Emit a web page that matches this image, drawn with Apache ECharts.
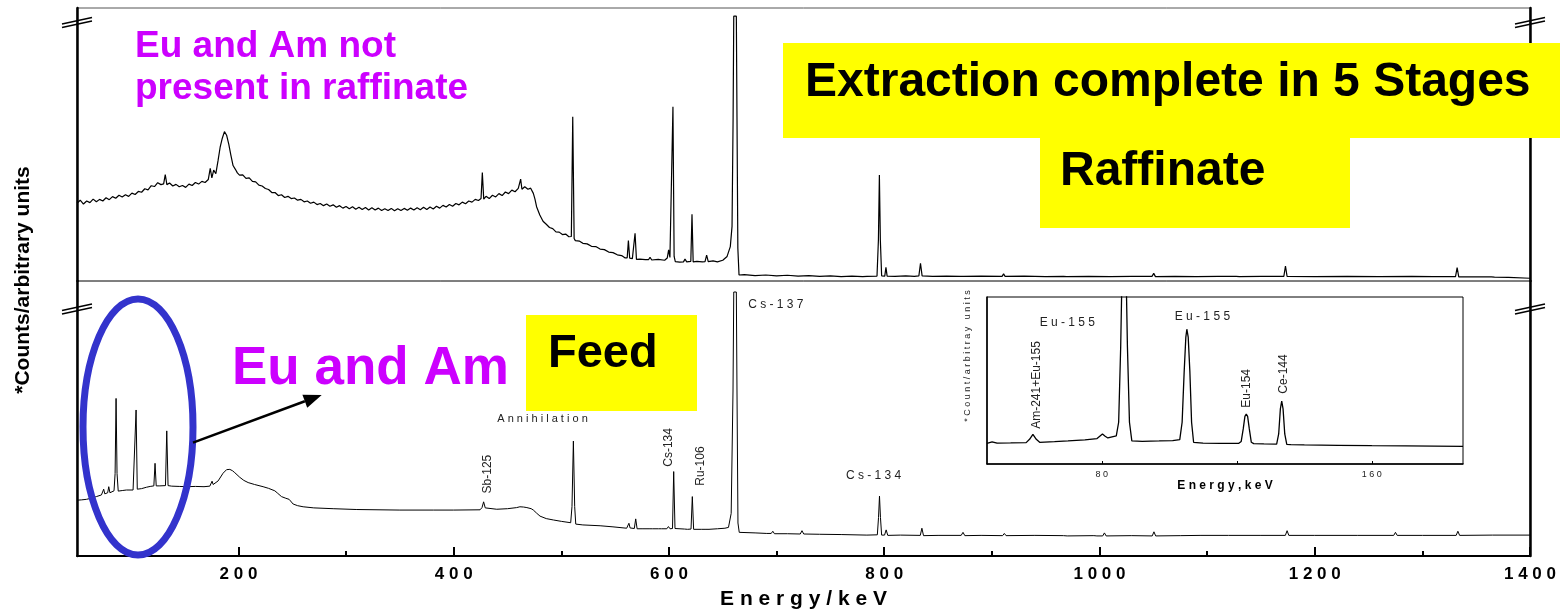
<!DOCTYPE html>
<html>
<head>
<meta charset="utf-8">
<title>Gamma spectra: feed and raffinate</title>
<script src="https://cdn.jsdelivr.net/npm/echarts@6/dist/echarts.min.js"></script>
<style>
  html, body { margin: 0; padding: 0; background: #fff; }
  #chart { width: 1560px; height: 615px; }
</style>
</head>
<body>
<div id="chart"></div>
<script>
const FONT = '"Liberation Sans", Arial, Helvetica, sans-serif';

// Raffinate spectrum after 5 stages: [energy keV, counts (arbitrary units)]
const raffinate = [
  [50,28.5],[53,29.6],[56,28.2],[59,29.3],[62,28.7],[65,30.0],[68,29.0],[71,29.9],[74,29.3],[77,30.5],
  [80,29.8],[83,30.9],[86,30.3],[89,31.4],[92,30.8],[95,31.6],[98,31.0],[101,32.2],[104,31.7],[107,32.8],
  [110,32.5],[113,33.8],[116,33.4],[119,34.9],[122,34.6],[125,36.0],[128,35.3],[130.5,35.6],[132,39.0],[133.5,35.3],
  [136,35.9],[139,34.8],[142,35.4],[145,34.5],[148,35.0],[151,34.3],[154,35.5],[157,35.0],[160,36.1],[163,35.5],
  [166,36.5],[169,36.1],[172,37.2],[173.8,41.3],[175.3,37.8],[177,40.6],[179,39.3],[181,44.0],[183,49.0],[185,52.3],
  [187,54.7],[189,53.4],[191,50.1],[193,46.0],[195,42.3],[197,41.0],[199,39.6],[201,38.8],[204,38.9],[207,37.6],
  [210,37.8],[213,36.5],[216,36.3],[219,35.1],[222,34.8],[225,33.9],[228,33.5],[231,32.4],[234,32.4],[237,31.3],
  [240,31.6],[243,30.6],[246,31.0],[249,30.2],[252,30.4],[255,29.6],[258,29.9],[261,29.0],[264,29.3],[267,28.5],
  [270,28.9],[273,28.0],[276,28.4],[279,27.6],[282,28.2],[285,27.4],[288,27.9],[291,27.0],[294,27.6],[297,26.7],
  [300,27.3],[303,26.5],[306,27.2],[309,26.3],[312,27.0],[315,26.2],[318,26.9],[321,26.0],[324,26.8],[327,26.0],
  [330,26.7],[333,25.8],[336,26.5],[339,25.8],[342,26.6],[345,25.7],[348,26.5],[351,25.8],[354,26.6],[357,25.9],
  [360,26.7],[363,26.0],[366,26.8],[369,26.1],[372,27.0],[375,26.2],[378,27.1],[381,26.4],[384,27.4],[387,26.7],
  [390,27.7],[393,27.1],[396,28.0],[399,27.4],[402,28.4],[405,27.9],[408,28.9],[411,28.3],[414,29.3],[417,28.9],
  [420,29.9],[423,29.5],[425.4,30.2],[426.6,39.7],[427.9,30.0],[430,31.0],[433,30.2],[436,31.4],[439,30.8],[442,32.0],
  [445,31.3],[448,32.6],[451,32.0],[454,33.3],[457,32.7],[460,33.9],[461.2,33.5],[462.2,37.3],[463.4,33.6],[466,34.5],
  [469,33.6],[471.5,34.0],[474,32.1],[475.5,30.0],[477,27.2],[480,24.2],[483,21.9],[486,20.8],[489,19.6],[492,19.2],
  [495,18.0],[498,17.9],[501,17.0],[504,17.2],[507,16.2],[509.3,16.3],[510.6,60.2],[511.9,15.6],[513,14.8],[517,14.6],
  [520,13.8],[524,13.6],[528,12.7],[532,12.6],[536,11.7],[540,11.5],[544,10.6],[548,10.4],[552,9.6],[556,9.3],
  [559,8.5],[561.2,8.5],[562.3,14.8],[563.5,8.4],[566,8.2],[567.3,8.4],[568.5,17.5],[569.8,7.9],[573,8.0],[578,7.8],
  [581,7.8],[582.4,8.7],[584,7.7],[590,7.9],[596,7.6],[598.4,8.4],[599.7,11.4],[600.9,8.6],[602.6,9.0],[603.7,63.8],
  [604.8,9.0],[605.9,7.1],[610,6.9],[613.5,7.0],[614.9,8.0],[616.5,7.0],[620.3,7.2],[621.4,24.4],[622.5,7.0],[626,7.2],
  [631,7.0],[633.5,7.1],[635,9.5],[636.5,7.1],[641,7.4],[645,7.0],[650,7.6],[654,9.0],[657,12.6],[658.6,20.0],
  [659.6,60.0],[660.2,97.0],[662.6,97.0],[663.2,60.0],[664.0,12.0],[665.1,2.2],[670,2.3],[680,2.0],[690,2.2],[700,1.9],
  [710,2.1],[720,1.8],[730,2.0],[740,1.7],[750,1.9],[760,1.6],[770,1.8],[780,1.6],[784,1.7],[793.3,1.8],
  [794.6,15.0],[795.5,38.8],[796.4,15.0],[797.6,1.9],[800.5,1.8],[801.6,5.0],[802.7,1.8],[810,1.7],[820,1.9],[828,1.7],
  [832.2,1.9],[833.7,6.5],[835.2,1.9],[845,1.7],[858,1.8],[870.5,1.7],[872.2,2.4],[874,1.7],[890,1.8],[909.5,1.7],
  [910.9,2.6],[912.3,1.7],[930,1.8],[950,1.6],[966.5,1.7],[968,2.2],[969.5,1.6],[990,1.7],[1010,1.6],[1030,1.7],
  [1048.8,1.7],[1050.4,2.8],[1052,1.6],[1070,1.7],[1090,1.6],[1110,1.7],[1127,1.7],[1128.5,2.1],[1130,1.6],[1150,1.7],
  [1171.3,1.7],[1172.8,5.5],[1174.3,1.7],[1200,1.6],[1230,1.7],[1260,1.6],[1290,1.7],[1310,1.6],[1330.8,1.6],[1332.3,4.9],
  [1333.8,1.5],[1350,1.5],[1364,1.5],[1365.6,2.0],[1367,1.4],[1380,1.3],[1400,1.0]
];

// Feed spectrum: [energy keV, counts (arbitrary units)]
const feed = [
  [50,20.3],[54,20.4],[58.7,20.6],[63,21.0],[68,21.6],[72.7,22.2],[73.8,22.6],[74.8,24.3],[75.8,22.6],[76.7,22.8],
  [78.5,23.0],[79.5,25.2],[80.6,23.0],[82,23.3],[84.4,23.7],[85.4,30.0],[86.3,57.3],[87.2,30.0],[88.3,23.6],[92,23.8],
  [95.9,24.0],[102.1,24.0],[103.8,24.3],[104.9,53.1],[106,24.3],[107,24.0],[110,24.5],[114.5,25.0],[118,25.3],[121.4,25.5],
  [122.5,33.7],[123.6,25.5],[127,25.5],[132.2,25.6],[133.4,45.5],[134.6,25.6],[138,25.4],[145,25.3],[151.7,25.2],[160,25.3],
  [168,25.2],[173.4,25.4],[174.6,26.0],[175.5,27.2],[176.5,26.0],[177.7,25.9],[181.1,27.3],[185.7,30.1],[189,31.4],[192,31.5],
  [194.5,31.0],[196.6,30.3],[201.3,28.6],[205,27.5],[209,26.7],[215,26.0],[222.9,25.2],[228,24.6],[233.8,23.7],[236.5,22.8],
  [240,21.6],[244,21.0],[247.1,20.6],[248.4,20.8],[250.8,18.9],[255,18.3],[260.1,17.9],[270,17.5],[288,17.2],[310,16.9],
  [350,16.7],[381,16.7],[400,16.7],[424.5,16.8],[426.3,17.6],[427.8,19.7],[429.3,17.5],[431,16.8],[440,17.0],[450,17.2],
  [458.5,17.6],[461.5,17.9],[463.2,18.5],[465,17.8],[468,17.6],[472,17.2],[474,16.7],[477,15.6],[480.2,14.5],[486,13.6],
  [492.6,13.1],[500,12.6],[508.7,12.1],[509.9,18.0],[511.2,41.8],[512.4,18.0],[513.4,11.6],[520,11.3],[536,11.0],[548,10.6],
  [560.7,10.1],[561.8,10.3],[562.8,11.9],[563.9,10.2],[567.8,10.0],[569.1,13.5],[570.4,9.9],[575,9.9],[581.5,9.9],[583,10.4],
  [584.5,9.9],[590.2,9.9],[591.7,10.3],[593.2,9.9],[598,9.9],[599.5,10.7],[601,9.9],[603.3,10.0],[604.4,30.7],[605.6,10.0],
  [606.9,9.7],[614.5,9.8],[615.9,10.5],[617.3,9.7],[620.5,9.8],[621.7,21.6],[622.9,9.7],[630,9.7],[634.4,9.7],[635.8,10.3],
  [637.2,9.7],[645,9.9],[652,10.1],[655.3,10.4],[657.8,15.5],[659.5,60.0],[660.2,96.0],[662.6,96.0],[663.2,60.0],[664.1,12.0],
  [665.3,8.6],[680,8.4],[690.9,8.2],[695,8.2],[696.5,9.0],[698,8.1],[710,8.1],[722,8.0],[723.6,9.2],[725.2,8.0],
  [740,7.9],[760,7.8],[783.9,7.6],[793.6,7.7],[794.7,14.0],[795.6,21.8],[796.5,14.0],[797.6,7.6],[800.3,7.6],[801.8,9.5],
  [803.3,7.5],[815,7.6],[833.5,7.5],[835,10.1],[836.5,7.4],[850,7.5],[871.5,7.5],[873.2,8.6],[874.9,7.4],[890,7.5],
  [910,7.4],[911.6,8.2],[913.2,7.4],[940,7.5],[966.6,7.4],[968.3,7.9],[970,7.3],[994.8,7.4],[996.2,7.8],[997.6,7.3],
  [1003,7.3],[1004.6,8.4],[1006.2,7.3],[1030,7.4],[1049,7.3],[1050.6,8.8],[1052.2,7.3],[1075,7.4],[1094.3,7.5],[1120,7.5],
  [1150,7.5],[1172.7,7.5],[1174.3,9.2],[1175.9,7.5],[1200,7.5],[1240,7.5],[1273.4,7.5],[1275,8.6],[1276.6,7.5],[1300,7.5],
  [1331.4,7.5],[1333,9.0],[1334.6,7.5],[1365,7.6],[1400,7.6]
];

// Low-energy region of the feed (inset): [energy keV, counts (arbitrary units)]
const feedLowEnergy = [
  [46,12.4],[47.5,13.3],[49,12.5],[53,12.6],[57.6,12.8],[58.6,14.8],[59.6,17.8],[60.6,14.8],[61.6,13.0],[66,13.4],
  [70,13.8],[75,14.4],[78.6,15.2],[79.4,16.6],[80.2,18.0],[81,16.6],[81.8,15.6],[84.3,16.8],[85.0,25.0],[85.6,70.0],
  [86.0,115.0],[87.2,115.0],[87.6,70.0],[88.2,25.0],[88.9,13.8],[92,13.6],[97,13.8],[101,14.0],[103.1,14.6],[103.8,25.0],
  [104.4,55.0],[104.9,76.0],[105.2,80.7],[105.6,76.0],[106.1,55.0],[106.6,25.0],[107.2,13.0],[110,12.5],[115,12.4],[120.6,12.4],
  [121.3,13.5],[121.9,21.0],[122.4,28.5],[122.8,29.9],[123.2,28.5],[123.7,21.0],[124.3,13.0],[125,12.2],[128,12.0],[131.8,11.9],
  [132.4,18.0],[132.9,33.0],[133.3,37.7],[133.7,33.0],[134.2,18.0],[134.8,11.8],[136,11.6],[140,11.4],[150,11.2],[160,11.0],
  [170,10.9],[187,10.6]
];

// Axis ticks
const energyTicks = [200, 400, 600, 800, 1000, 1200, 1400];
const energyMinorTicks = [100, 300, 500, 700, 900, 1100, 1300];
const insetTicks = [80, 120, 160];
const insetTickLabels = [80, 160];

// Nuclide labels on the feed spectrum: text, anchor [keV, counts], vertical?
const feedLabels = ['Cs-137', 'Annihilation', 'Cs-134', 'Sb-125', 'Cs-134', 'Ru-106'];
const feedLabelAt = [[673.6, 91.3], [482.5, 49.8], [790.1, 29.1], [431.8, 29.8], [599.5, 39.5], [629.9, 32.7]];
const feedLabelVertical = [false, false, false, true, true, true];

// Nuclide labels in the inset
const insetLabels = ['Eu-155', 'Eu-155', 'Am-241+Eu-155', 'Eu-154', 'Ce-144'];
const insetLabelAt = [[69.8, 84.8], [109.8, 88.2], [60.7, 47.3], [122.9, 45.3], [133.8, 53.9]];
const insetLabelVertical = [false, false, true, true, true];

const spaced = s => s.split('').join(' ');

const chart = echarts.init(document.getElementById('chart'), null, { renderer: 'canvas' });

const hidden = { axisTick: { show: false }, axisLabel: { show: false }, splitLine: { show: false } };
const frameY = (gridIndex, position, width) => Object.assign({
  gridIndex, type: 'value', min: 0, max: 100, position,
  axisLine: { show: true, onZero: false, lineStyle: { color: '#000', width } }
}, hidden);

chart.setOption({
  animation: false,
  textStyle: { fontFamily: FONT },
  grid: [
    { left: 77, right: 30, top: 8, height: 273, show: true, borderColor: '#555', borderWidth: 1, outerBoundsMode: 'none' },
    { left: 77, right: 30, top: 281, height: 275, show: true, borderColor: '#555', borderWidth: 1, outerBoundsMode: 'none' },
    { left: 987, top: 297, width: 476, height: 167, show: true, backgroundColor: '#fff',
      borderColor: '#000', borderWidth: 1, outerBoundsMode: 'none' }
  ],
  xAxis: [
    Object.assign({ gridIndex: 0, type: 'value', min: 50, max: 1400, position: 'bottom', axisLine: { show: false } }, hidden),
    {
      gridIndex: 1, type: 'value', min: 50, max: 1400, position: 'bottom',
      axisLine: { show: true, onZero: false, lineStyle: { color: '#000', width: 2 } },
      axisTick: { show: true, inside: true, length: 9, customValues: energyTicks, lineStyle: { color: '#000', width: 2 } },
      axisLabel: {
        show: true, customValues: energyTicks, formatter: v => spaced(String(v)),
        color: '#000', fontSize: 17, fontWeight: 'bold', fontFamily: FONT, margin: 10
      },
      splitLine: { show: false },
      name: spaced('Energy/keV'), nameLocation: 'middle', nameGap: 33,
      nameTextStyle: { color: '#000', fontSize: 21, fontWeight: 'bold', fontFamily: FONT }
    },
    {
      gridIndex: 1, type: 'value', min: 50, max: 1400, position: 'bottom',
      axisLine: { show: false },
      axisTick: { show: true, inside: true, length: 5, customValues: energyMinorTicks, lineStyle: { color: '#000', width: 2 } },
      axisLabel: { show: false }, splitLine: { show: false }
    },
    {
      gridIndex: 2, type: 'value', min: 46, max: 187, position: 'bottom',
      axisLine: { show: true, onZero: false, lineStyle: { color: '#000', width: 1.5 } },
      axisTick: { show: true, inside: true, length: 3, customValues: insetTicks, lineStyle: { color: '#000', width: 1 } },
      axisLabel: {
        show: true, customValues: insetTickLabels, formatter: v => spaced(String(v)),
        color: '#222', fontSize: 9, fontFamily: FONT, margin: 6
      },
      splitLine: { show: false },
      name: spaced('Energy,keV'), nameLocation: 'middle', nameGap: 6,
      nameTextStyle: { color: '#000', fontSize: 12, fontWeight: 'bold', fontFamily: FONT }
    }
  ],
  yAxis: [
    frameY(0, 'left', 2.5),
    frameY(0, 'right', 2.5),
    frameY(1, 'left', 2.5),
    frameY(1, 'right', 2.5),
    frameY(2, 'left', 1.5)
  ],
  series: [
    { name: 'Raffinate', type: 'line', xAxisIndex: 0, yAxisIndex: 0, data: raffinate,
      symbol: 'none', clip: true, silent: true, lineStyle: { color: '#000', width: 1.2 } },
    { name: 'Feed', type: 'line', xAxisIndex: 1, yAxisIndex: 2, data: feed,
      symbol: 'none', clip: true, silent: true, lineStyle: { color: '#000', width: 1 } },
    { name: 'Feed (low energy)', type: 'line', xAxisIndex: 3, yAxisIndex: 4, data: feedLowEnergy,
      symbol: 'none', clip: true, silent: true, lineStyle: { color: '#000', width: 1.3 } }
  ]
});

// Annotations: peak labels placed through the series' own coordinate systems
function label(seriesIndex, text, at, vertical, opts) {
  const p = chart.convertToPixel({ seriesIndex }, at);
  return {
    type: 'text', x: p[0], y: p[1], rotation: vertical ? Math.PI / 2 : 0, z: 100,
    style: Object.assign({
      text, fill: '#222', fontFamily: FONT, fontSize: 12,
      align: 'center', verticalAlign: 'middle'
    }, opts || {})
  };
}

const elements = [];

// Highlight boxes
const yellow = '#ffff00';
elements.push(
  { type: 'rect', z: 90, shape: { x: 783, y: 43, width: 777, height: 95 }, style: { fill: yellow } },
  { type: 'rect', z: 90, shape: { x: 1040, y: 138, width: 310, height: 90 }, style: { fill: yellow } },
  { type: 'rect', z: 90, shape: { x: 526, y: 315, width: 171, height: 96 }, style: { fill: yellow } }
);

const big = (text, x, y, size, fill) => ({
  type: 'text', x, y, z: 100,
  style: { text, fill, fontFamily: FONT, fontSize: size, fontWeight: 'bold', align: 'left', verticalAlign: 'middle' }
});
elements.push(
  big('Extraction complete in 5 Stages', 805, 82.7, 48, '#000'),
  big('Raffinate', 1060, 171.7, 48, '#000'),
  big('Feed', 548, 354.4, 47, '#000'),
  big('Eu and Am not', 135, 47.2, 37, '#cc00ff'),
  big('present in raffinate', 135, 88.9, 37, '#cc00ff'),
  big('Eu and Am', 232, 368.9, 53, '#cc00ff')
);

// Ellipse round the low-energy Eu/Am peaks and the arrow to the caption
elements.push({
  type: 'ellipse', z: 95, shape: { cx: 138, cy: 427, rx: 55, ry: 128 },
  style: { fill: 'none', stroke: '#3333cc', lineWidth: 7 }
});
(function arrow(x1, y1, x2, y2) {
  const dx = x2 - x1, dy = y2 - y1, L = Math.hypot(dx, dy);
  const ux = dx / L, uy = dy / L, nx = -uy, ny = ux;
  const bx = x2 - 18 * ux, by = y2 - 18 * uy;
  elements.push(
    { type: 'line', z: 96, shape: { x1, y1, x2: bx, y2: by }, style: { stroke: '#000', lineWidth: 2.5 } },
    { type: 'polygon', z: 96, shape: { points: [[x2, y2], [bx + 7 * nx, by + 7 * ny], [bx - 7 * nx, by - 7 * ny]] },
      style: { fill: '#000' } }
  );
})(193, 442.7, 321.7, 395);

// Axis break marks
[[77, 22.5], [1530, 22.5], [77, 309], [1530, 309]].forEach(([cx, cy]) => {
  elements.push(
    { type: 'line', z: 97, shape: { x1: cx - 15, y1: cy + 1.5, x2: cx + 15, y2: cy - 5 }, style: { stroke: '#000', lineWidth: 1.5 } },
    { type: 'line', z: 97, shape: { x1: cx - 15, y1: cy + 5, x2: cx + 15, y2: cy - 1.5 }, style: { stroke: '#000', lineWidth: 1.5 } }
  );
});

// Main vertical axis title
elements.push({
  type: 'text', x: 23.7, y: 280, rotation: Math.PI / 2, z: 100,
  style: { text: '*Counts/arbitrary units', fill: '#000', fontFamily: FONT, fontSize: 21, fontWeight: 'bold',
           align: 'center', verticalAlign: 'middle' }
});

// Feed peak labels
feedLabels.forEach((t, i) => {
  const vertical = feedLabelVertical[i];
  const opts = vertical ? { fontSize: 12 } : { fontSize: i === 1 ? 11 : 12, align: i === 0 ? 'left' : 'center' };
  elements.push(label(1, vertical ? t : spaced(t), feedLabelAt[i], vertical, opts));
});

// Inset peak labels and its vertical axis title
insetLabels.forEach((t, i) => {
  const vertical = insetLabelVertical[i];
  elements.push(label(2, vertical ? t : spaced(t), insetLabelAt[i], vertical, { fontSize: 12 }));
});
(function () {
  const p = chart.convertToPixel({ seriesIndex: 2 }, [46, 64.7]);
  elements.push({
    type: 'text', x: p[0] - 19, y: p[1], rotation: Math.PI / 2, z: 100,
    style: { text: spaced('*Count/arbitray') + '   ' + spaced('units'), fill: '#222', fontFamily: FONT, fontSize: 9,
             align: 'center', verticalAlign: 'middle' }
  });
})();

chart.setOption({ graphic: { elements } });
</script>
</body>
</html>
